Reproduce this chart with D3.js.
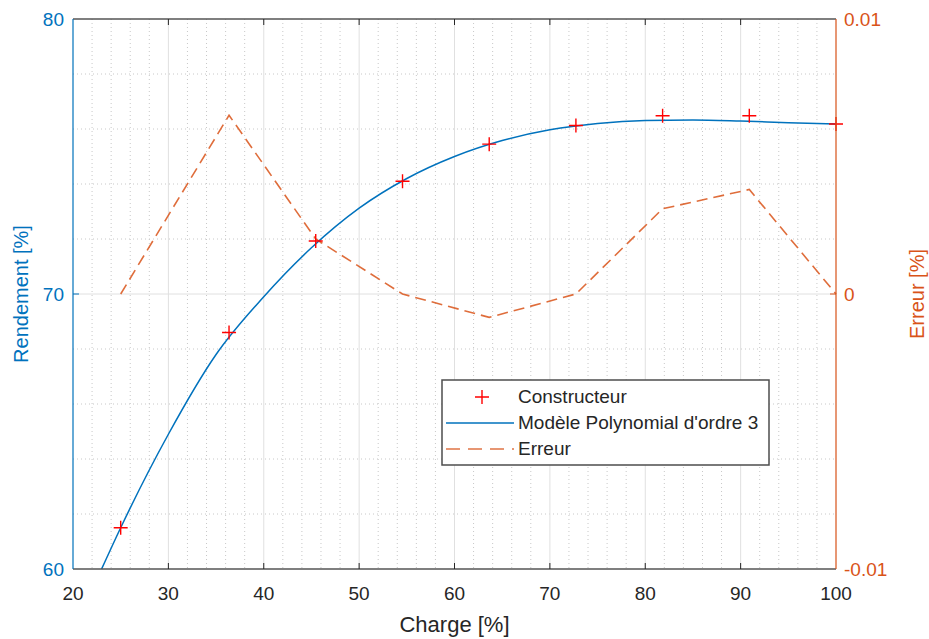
<!DOCTYPE html>
<html lang="fr">
<head>
<meta charset="UTF-8">
<title>Rendement / Erreur</title>
<script src="https://d3js.org/d3.v7.min.js"></script>
<style>
  body { margin: 0; background: #fff; }
  svg { display: block; font-family: "Liberation Sans", Arial, sans-serif; }
</style>
</head>
<body>
<svg width="929" height="639"></svg>
<script>
// --- data ---
const charge      = [25, 36.36, 45.45, 54.55, 63.64, 72.73, 81.82, 90.91, 100];
const constructeur = [61.5, 68.6, 71.93, 74.1, 75.45, 76.13, 76.48, 76.48, 76.18];
const erreur      = [0.0000, 0.0065, 0.0020, 0.0000, -0.00085, 0.0000, 0.0031, 0.0038, 0.0000];
// polynomial model
const modelX = [23, 25, 30, 35, 40, 45, 50, 55, 60, 65, 70, 75, 80, 85, 90, 95, 100];
const modelY = [60, 61.5, 64.9, 67.8, 69.9, 71.68, 73.12, 74.2, 75.0, 75.58, 75.97, 76.2, 76.31, 76.33, 76.29, 76.23, 76.18];
const xTicks = [20, 30, 40, 50, 60, 70, 80, 90, 100];
const yTicks = [60, 70, 80];
const y2Ticks = [-0.01, 0, 0.01];
const legendLabels = ["Constructeur", "Modèle Polynomial d'ordre 3", "Erreur"];

const blue = "#0072BD", orange = "#D95319", red = "#FF0000";
const L = 73, R = 836, T = 19, B = 569;

const svg = d3.select("svg");
const x = d3.scaleLinear().domain([20, 100]).range([L, R]);
const y = d3.scaleLinear().domain([60, 80]).range([B, T]);
const y2 = d3.scaleLinear().domain([-0.01, 0.01]).range([B, T]);

// minor grid (dotted)
const minorX = d3.range(22, 100, 2).filter(v => v % 10 !== 0);
const minorY = d3.range(62, 80, 2).filter(v => v % 10 !== 0);
const grid = svg.append("g");
grid.selectAll(".mx").data(minorX).join("line")
  .attr("x1", d => x(d)).attr("x2", d => x(d)).attr("y1", T).attr("y2", B)
  .attr("stroke", "#c8c8c8").attr("stroke-width", 1).attr("stroke-dasharray", "1,3");
grid.selectAll(".my").data(minorY).join("line")
  .attr("x1", L).attr("x2", R).attr("y1", d => y(d)).attr("y2", d => y(d))
  .attr("stroke", "#c8c8c8").attr("stroke-width", 1).attr("stroke-dasharray", "1,3");
// major grid
grid.selectAll(".gx").data(xTicks.slice(1, -1)).join("line")
  .attr("x1", d => x(d)).attr("x2", d => x(d)).attr("y1", T).attr("y2", B)
  .attr("stroke", "#e0e0e0").attr("stroke-width", 1);
grid.selectAll(".gy").data([70]).join("line")
  .attr("x1", L).attr("x2", R).attr("y1", d => y(d)).attr("y2", d => y(d))
  .attr("stroke", "#e0e0e0").attr("stroke-width", 1);

// error line (right axis)
svg.append("path")
  .datum(charge.map((c, i) => [c, erreur[i]]))
  .attr("fill", "none").attr("stroke", orange).attr("stroke-width", 1.6)
  .attr("stroke-dasharray", "11,6").attr("opacity", 0.85)
  .attr("d", d3.line().x(d => x(d[0])).y(d => y2(d[1])));

// model curve
svg.append("path")
  .datum(modelX.map((c, i) => [c, modelY[i]]))
  .attr("fill", "none").attr("stroke", blue).attr("stroke-width", 1.5)
  .attr("d", d3.line().curve(d3.curveMonotoneX).x(d => x(d[0])).y(d => y(d[1])));

// constructeur markers
svg.append("g").selectAll("path").data(charge).join("path")
  .attr("d", "M-7,0H7M0,-7V7")
  .attr("transform", (d, i) => `translate(${x(d)},${y(constructeur[i])})`)
  .attr("stroke", red).attr("stroke-width", 1.4).attr("fill", "none");

// axes box
svg.append("line").attr("x1", L).attr("x2", R).attr("y1", T).attr("y2", T).attr("stroke", "#555").attr("stroke-width", 1.5);
svg.append("line").attr("x1", L).attr("x2", R).attr("y1", B).attr("y2", B).attr("stroke", "#555").attr("stroke-width", 1.5);
svg.append("line").attr("x1", L).attr("x2", L).attr("y1", T).attr("y2", B).attr("stroke", blue).attr("stroke-width", 1.5).attr("opacity", 0.8);
svg.append("line").attr("x1", R).attr("x2", R).attr("y1", T).attr("y2", B).attr("stroke", orange).attr("stroke-width", 1.5).attr("opacity", 0.8);

// x ticks (inward, top and bottom)
const xt = svg.append("g");
xt.selectAll(".tb").data(xTicks.slice(1, -1)).join("line")
  .attr("x1", d => x(d)).attr("x2", d => x(d)).attr("y1", B).attr("y2", B - 6)
  .attr("stroke", "#262626");
xt.selectAll(".tt").data(xTicks.slice(1, -1)).join("line")
  .attr("x1", d => x(d)).attr("x2", d => x(d)).attr("y1", T).attr("y2", T + 6)
  .attr("stroke", "#262626");
xt.selectAll("text").data(xTicks).join("text")
  .attr("x", d => x(d)).attr("y", B + 31)
  .attr("text-anchor", "middle").attr("font-size", 19).attr("fill", "#262626")
  .text(d => d);

// left ticks
svg.append("line").attr("x1", L).attr("x2", L + 6).attr("y1", y(70)).attr("y2", y(70)).attr("stroke", blue);
svg.append("g").selectAll("text").data(yTicks).join("text")
  .attr("x", L - 9).attr("y", d => y(d) + 7)
  .attr("text-anchor", "end").attr("font-size", 19).attr("fill", blue)
  .text(d => d);

// right ticks
svg.append("line").attr("x1", R).attr("x2", R - 6).attr("y1", y2(0)).attr("y2", y2(0)).attr("stroke", orange);
svg.append("g").selectAll("text").data(y2Ticks).join("text")
  .attr("x", R + 8).attr("y", d => y2(d) + 7)
  .attr("text-anchor", "start").attr("font-size", 19).attr("fill", orange)
  .text(d => d === 0 ? "0" : d3.format(".2f")(d).replace("−", "-"));

// axis labels
svg.append("text").attr("x", (L + R) / 2).attr("y", 632)
  .attr("text-anchor", "middle").attr("font-size", 22).attr("fill", "#262626")
  .text("Charge [%]");
svg.append("text").attr("transform", `translate(28,${(T + B) / 2}) rotate(-90)`)
  .attr("text-anchor", "middle").attr("font-size", 20).attr("fill", blue)
  .text("Rendement [%]");
svg.append("text").attr("transform", `translate(924,${(T + B) / 2}) rotate(-90)`)
  .attr("text-anchor", "middle").attr("font-size", 20).attr("fill", orange)
  .text("Erreur [%]");

// legend
const lg = svg.append("g").attr("transform", "translate(442,380)");
lg.append("rect").attr("width", 327).attr("height", 85)
  .attr("fill", "#fff").attr("stroke", "#4d4d4d").attr("stroke-width", 1.5);
const rows = [17, 43, 69];
lg.append("path").attr("d", "M-7,0H7M0,-7V7")
  .attr("transform", `translate(40,${rows[0]})`).attr("stroke", red).attr("stroke-width", 1.4);
lg.append("line").attr("x1", 4).attr("x2", 72).attr("y1", rows[1]).attr("y2", rows[1])
  .attr("stroke", blue).attr("stroke-width", 1.5);
lg.append("line").attr("x1", 4).attr("x2", 72).attr("y1", rows[2]).attr("y2", rows[2])
  .attr("stroke", orange).attr("stroke-width", 1.5).attr("stroke-dasharray", "14,8").attr("opacity", 0.8);
lg.selectAll("text").data(legendLabels).join("text")
  .attr("x", 76).attr("y", (d, i) => rows[i] + 6)
  .attr("font-size", 19).attr("fill", "#262626")
  .text(d => d);
</script>
</body>
</html>
